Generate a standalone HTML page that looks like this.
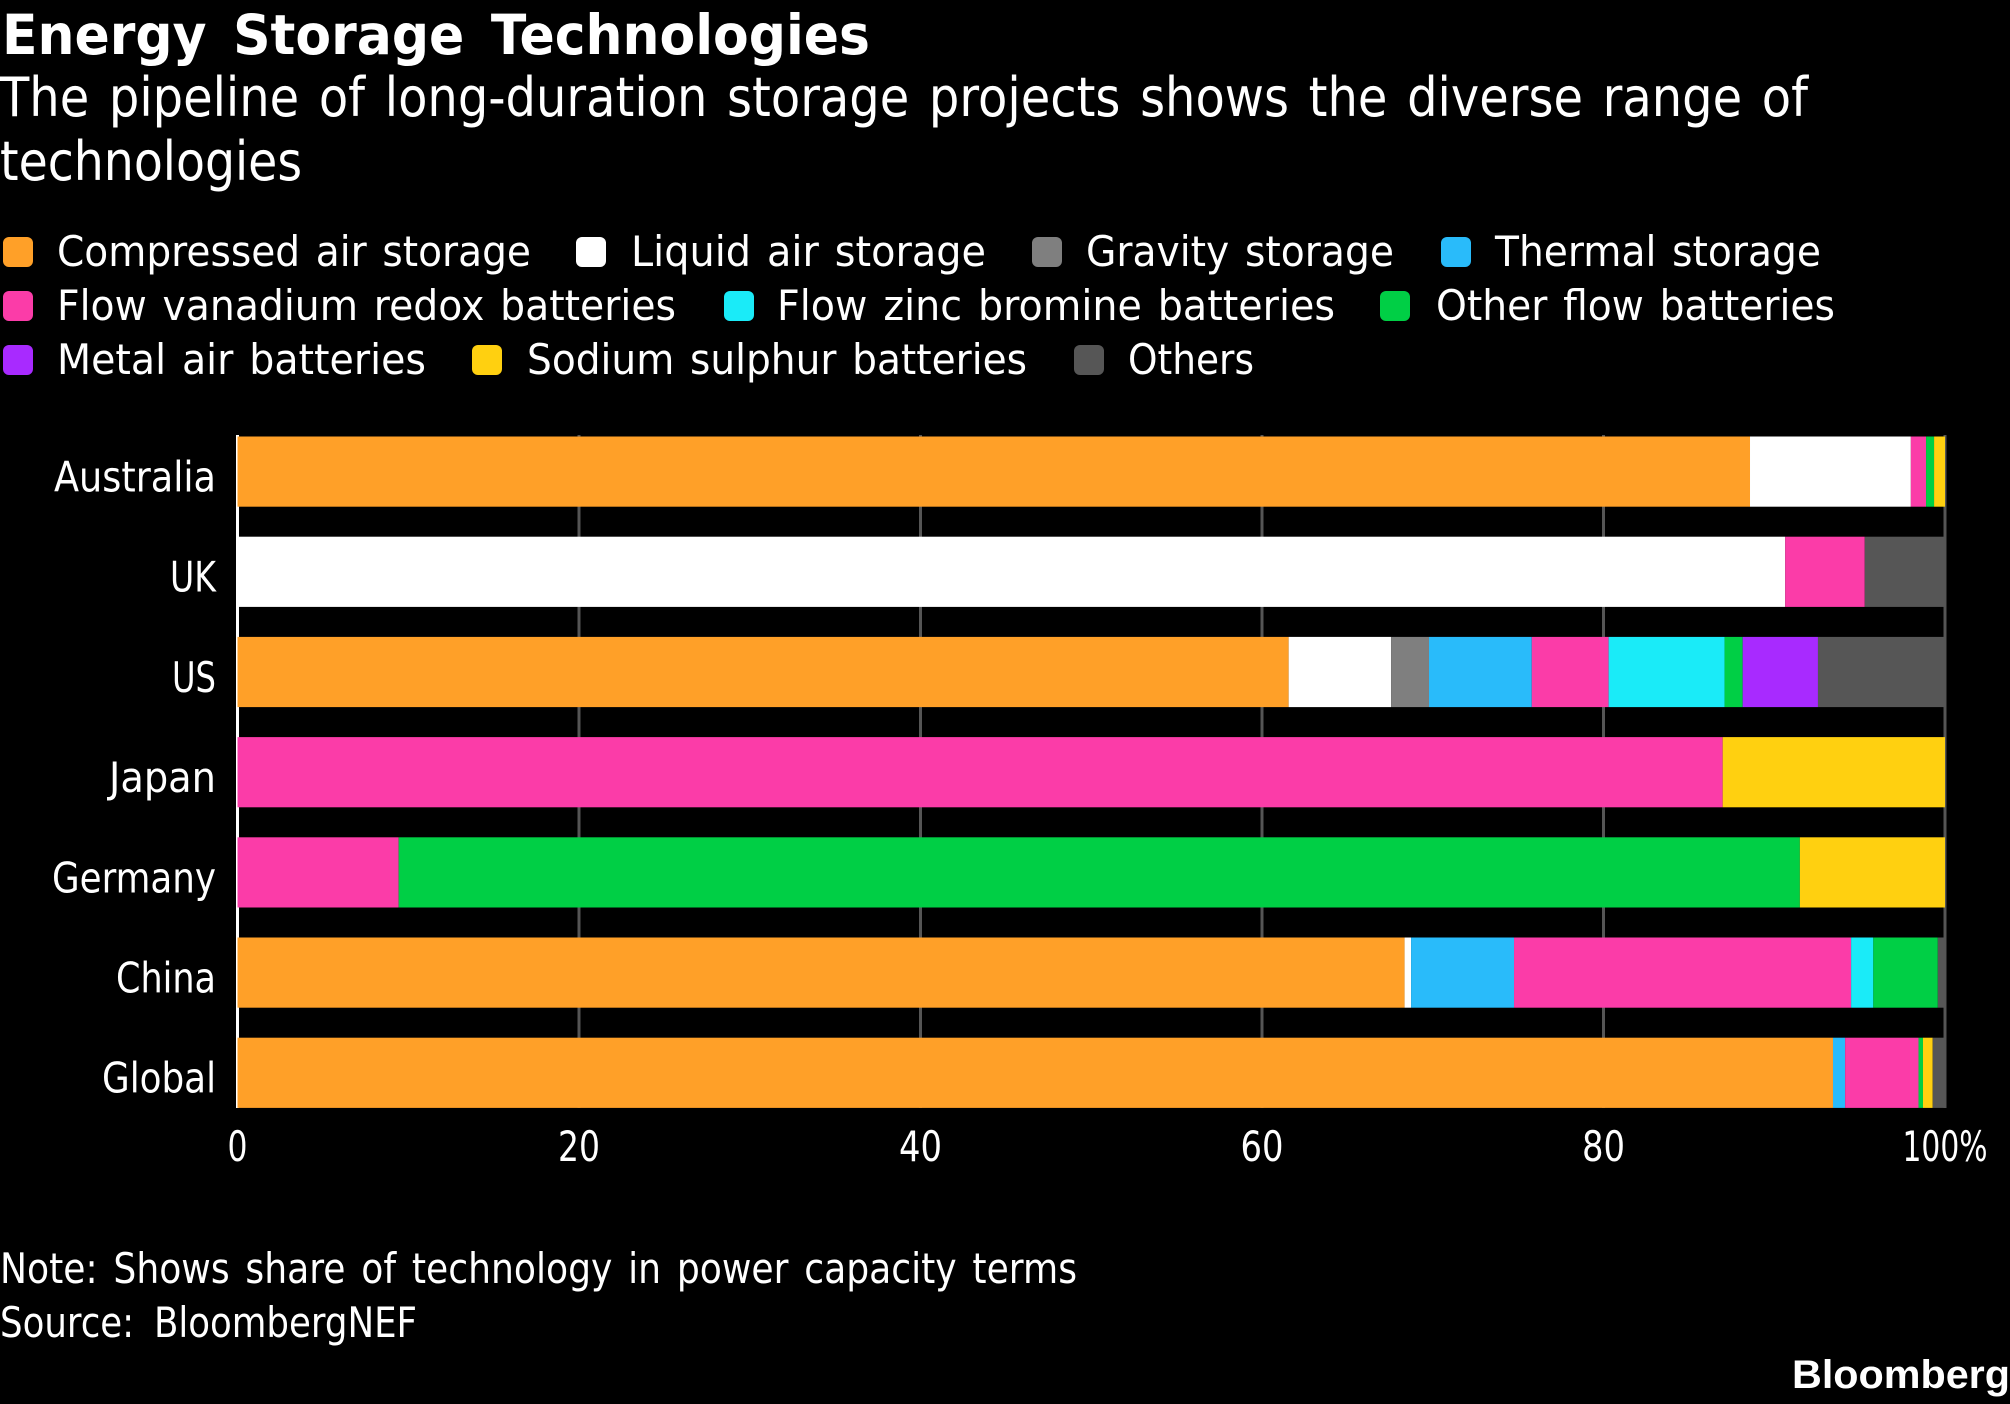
<!DOCTYPE html>
<html lang="en">
<head>
<meta charset="utf-8">
<title>Energy Storage Technologies</title>
<style>
html,body{margin:0;padding:0;background:#000;}
body{width:2010px;height:1404px;overflow:hidden;}
svg{display:block;}
text{font-family:"DejaVu Sans","Liberation Sans",sans-serif;fill:#fff;}
.t{font-size:42px;word-spacing:3.5px;}
</style>
</head>
<body>
<svg id="chart" xmlns="http://www.w3.org/2000/svg" width="2010" height="1404" viewBox="0 0 2010 1404">
<rect x="0" y="0" width="2010" height="1404" fill="#000"/>
<text x="2" y="54" font-size="55" font-weight="700" style="word-spacing:9px" textLength="868" lengthAdjust="spacingAndGlyphs">Energy Storage Technologies</text>
<text x="0" y="116" font-size="54" style="word-spacing:5px" textLength="1808" lengthAdjust="spacingAndGlyphs">The pipeline of long-duration storage projects shows the diverse range of</text>
<text x="0" y="180" font-size="54" textLength="302" lengthAdjust="spacingAndGlyphs">technologies</text>
<g id="legend"></g>
<g id="grid"></g>
<g id="bars"></g>
<g id="ylabels"></g>
<g id="xlabels"></g>
<text class="t" x="0" y="1283" style="word-spacing:5px" textLength="1077" lengthAdjust="spacingAndGlyphs">Note: Shows share of technology in power capacity terms</text>
<text class="t" x="0" y="1337" style="word-spacing:10px" textLength="417" lengthAdjust="spacingAndGlyphs">Source: BloombergNEF</text>
<text x="1792" y="1388" font-size="40" font-weight="700" style="font-family:'Liberation Sans',sans-serif" textLength="218" lengthAdjust="spacingAndGlyphs">Bloomberg</text>
</svg>
<script>
const categories = ["Australia", "UK", "US", "Japan", "Germany", "China", "Global"];
const tickValues = [0, 20, 40, 60, 80, 100];
const tickLabels = ["0", "20", "40", "60", "80", "100%"];
const seriesNames = ["Compressed air storage", "Liquid air storage", "Gravity storage", "Thermal storage", "Flow vanadium redox batteries", "Flow zinc bromine batteries", "Other flow batteries", "Metal air batteries", "Sodium sulphur batteries", "Others"];
const seriesColors = ["#ffa028", "#ffffff", "#7f7f7f", "#29bbfa", "#fb3ca8", "#1aebf8", "#00cf45", "#a82aff", "#ffd010", "#565656"];
const compressedAir = [88.58, 0, 61.56, 0, 0, 68.35, 93.44];
const liquidAir = [9.42, 90.64, 6.0, 0, 0, 0.38, 0];
const gravity = [0, 0, 2.22, 0, 0, 0, 0];
const thermal = [0, 0, 6.02, 0, 0, 6.03, 0.71];
const flowVanadium = [0.89, 4.66, 4.5, 86.98, 9.44, 19.74, 4.3];
const flowZinc = [0, 0, 6.79, 0, 0, 1.3, 0];
const otherFlow = [0.47, 0, 1.06, 0, 82.06, 3.78, 0.26];
const metalAir = [0, 0, 4.41, 0, 0, 0, 0];
const sodiumSulphur = [0.64, 0, 0, 13.02, 8.5, 0, 0.57];
const others = [0, 4.7, 7.44, 0, 0, 0.42, 0.72];
const seriesValues = [compressedAir, liquidAir, gravity, thermal, flowVanadium, flowZinc, otherFlow, metalAir, sodiumSulphur, others];

const NS = "http://www.w3.org/2000/svg";
const slug = function (s) { return s.toLowerCase().replace(/[^a-z0-9]+/g, "-").replace(/^-|-$/g, ""); };
const make = function (tag, parent, props) {
  const el = document.createElementNS(NS, tag);
  Object.keys(props).forEach(function (k) { el.setAttribute(k, props[k]); });
  parent.appendChild(el);
  return el;
};
const xScale = function (v) { return 237.5 + v * 17.075; };
const bandTop = function (i) { return 436.5 + i * 100.2; };
const barHeight = 70.2;

/* gridlines */
const gridG = document.getElementById("grid");
tickValues.forEach(function (v) {
  const line = make("rect", gridG, {
    x: xScale(v) - 1.5, y: 435, width: 3, height: 673,
    fill: v === 0 ? "#ffffff" : "#555555"
  });
  
  
});

/* bars */
const barsG = document.getElementById("bars");
categories.forEach(function (cat, i) {
  let acc = 0;
  seriesValues.forEach(function (vals, s) {
    const v = vals[i];
    if (v > 0) {
      const rect = make("rect", barsG, {
        x: xScale(acc), y: bandTop(i), width: xScale(acc + v) - xScale(acc), height: barHeight,
        fill: seriesColors[s]
      });
      
      
    }
    acc += v;
  });
});

/* category labels (right edge at 216) */
const yLabelWidths = [162, 46, 44, 107, 164, 100, 114];
const yG = document.getElementById("ylabels");
categories.forEach(function (cat, i) {
  const t = make("text", yG, {
    class: "t", x: 216 - yLabelWidths[i], y: bandTop(i) + 55,
    textLength: yLabelWidths[i], lengthAdjust: "spacingAndGlyphs"
  });
  t.textContent = cat;
  
  
});

/* tick labels */
const xLabelWidths = [20, 42, 43, 43, 43, 85];
const xG = document.getElementById("xlabels");
tickValues.forEach(function (v, i) {
  const t = make("text", xG, {
    class: "t", x: xScale(v) - xLabelWidths[i] / 2, y: 1161,
    textLength: xLabelWidths[i], lengthAdjust: "spacingAndGlyphs"
  });
  t.textContent = tickLabels[i];
  
  
});

/* legend layout */
const legendSwatchX = [3, 576, 1032, 1441, 3, 724, 1380, 3, 472, 1074];
const legendTextX = [57, 631, 1086, 1495, 57, 777, 1436, 57, 527, 1128];
const legendTextW = [474, 355, 308, 326, 619, 558, 399, 369, 500, 126];
const legendRow = [0, 0, 0, 0, 1, 1, 1, 2, 2, 2];
const legendG = document.getElementById("legend");
seriesNames.forEach(function (name, s) {
  const base = 266 + legendRow[s] * 54;
  const sw = make("rect", legendG, {
    x: legendSwatchX[s], y: base - 29, width: 30, height: 30, rx: 6, ry: 6, fill: seriesColors[s]
  });
  
  
  const t = make("text", legendG, {
    class: "t", x: legendTextX[s], y: base, textLength: legendTextW[s], lengthAdjust: "spacingAndGlyphs"
  });
  t.textContent = name;
  
  
});
</script>
</body>
</html>
